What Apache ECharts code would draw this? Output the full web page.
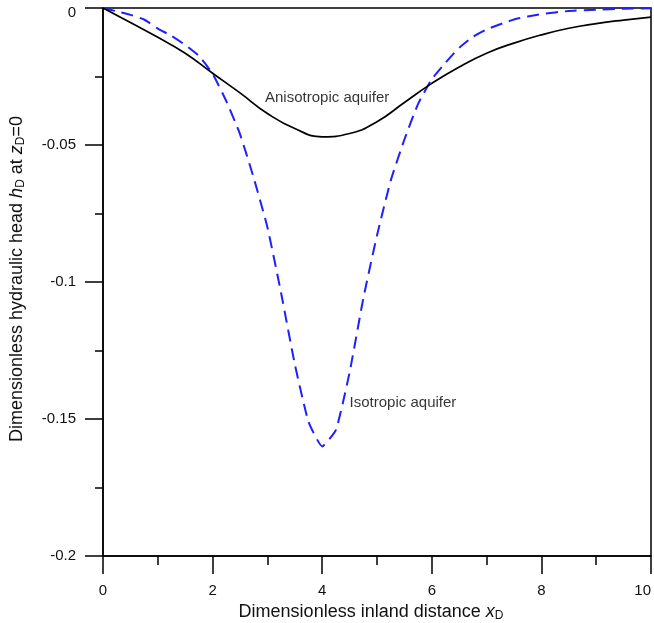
<!DOCTYPE html>
<html><head><meta charset="utf-8">
<script src="https://cdn.jsdelivr.net/npm/echarts@6/dist/echarts.min.js"></script>
<style>html,body{margin:0;padding:0;background:#fff}#c{width:654px;height:623px}</style>
</head><body><div id="c"></div>
<script>
// Anisotropic aquifer (solid black)
const anisoX = [0,0.5,1,1.5,2,2.5,3,3.5,4,4.5,5,5.5,6,6.5,7,7.5,8,8.5,9,9.5,10];
const anisoY = [0,-0.0053,-0.0107,-0.0165,-0.0238,-0.031,-0.0385,-0.0440,-0.0470,-0.0458,-0.0415,-0.0345,-0.0275,-0.0215,-0.0165,-0.0128,-0.0098,-0.0074,-0.0057,-0.0044,-0.0033];
// Isotropic aquifer (dashed blue)
const isoX = [0,0.25,0.5,0.75,1,1.25,1.5,1.75,2,2.25,2.5,2.75,3,3.25,3.5,3.75,4,4.25,4.5,4.75,5,5.25,5.5,5.75,6,6.25,6.5,6.75,7,7.5,8,8.5,9,9.5,10];
const isoY = [0,-0.0012,-0.0025,-0.0042,-0.0075,-0.0102,-0.0135,-0.0175,-0.024,-0.034,-0.046,-0.062,-0.080,-0.104,-0.130,-0.151,-0.160,-0.154,-0.133,-0.106,-0.083,-0.063,-0.048,-0.035,-0.026,-0.020,-0.0145,-0.0105,-0.0078,-0.0042,-0.0022,-0.0011,-0.0006,-0.0003,-0.0001];
// Axis ticks
const xTicks = {min:0, max:10, interval:2};
const yTicks = {min:-0.2, max:0, interval:0.05};
// Curve annotations
const annText = ['Anisotropic aquifer','Isotropic aquifer'];
const annX = [4.09, 4.5];
const annY = [-0.0328, -0.1442];
const annAlign = ['center','left'];

const FONT = "'Liberation Sans', Arial, sans-serif";
const chart = echarts.init(document.getElementById('c'), null, {renderer:'canvas'});
const axisLineStyle = {color:'#000', width:1.5};
const sub = {fontSize:12, fontFamily:FONT, color:'#111', verticalAlign:'bottom', padding:[8,0,0,0]};
const ital = {fontSize:18, fontFamily:FONT, color:'#111', fontStyle:'italic'};

chart.setOption({
  animation:false,
  backgroundColor:'#fff',
  grid:{left:103, right:3, top:8, bottom:67, containLabel:false, outerBoundsMode:'none',
        show:true, borderColor:'#000', borderWidth:1.5, backgroundColor:'transparent'},
  xAxis:{
    type:'value', min:xTicks.min, max:xTicks.max, interval:xTicks.interval,
    axisLine:{show:true, onZero:false, lineStyle:axisLineStyle},
    axisTick:{show:true, inside:false, length:18, lineStyle:axisLineStyle},
    minorTick:{show:true, splitNumber:2, length:9, lineStyle:axisLineStyle},
    splitLine:{show:false},
    axisLabel:{margin:27, fontSize:15, fontFamily:FONT, color:'#111', alignMaxLabel:'right'},
    name:'Dimensionless inland distance {i|x}{s|D}', nameLocation:'middle', nameGap:44,
    nameTextStyle:{fontSize:18, fontFamily:FONT, color:'#111', padding:[0,12,0,0], rich:{i:ital, s:sub}}
  },
  yAxis:{
    type:'value', min:yTicks.min, max:yTicks.max, interval:yTicks.interval,
    axisLine:{show:true, onZero:false, lineStyle:axisLineStyle},
    axisTick:{show:true, inside:false, length:18, lineStyle:axisLineStyle},
    minorTick:{show:true, splitNumber:2, length:8, lineStyle:axisLineStyle},
    splitLine:{show:false},
    axisLabel:{margin:27, fontSize:15, fontFamily:FONT, color:'#111',
      formatter:function(v){ return v === 0 ? '{t|0}' : String(v); },
      rich:{t:{fontSize:15, fontFamily:FONT, color:'#111', padding:[10,0,0,0]}}},
    name:'Dimensionless hydraulic head {i|h}{s|D} at {i|z}{s|D}=0', nameLocation:'middle', nameGap:76,
    nameTextStyle:{fontSize:18, fontFamily:FONT, color:'#111', padding:[0,0,0,6], rich:{i:ital, s:sub}}
  },
  series:[
    {type:'line', data:anisoX.map((x,i)=>[x,anisoY[i]]), smooth:true, showSymbol:false, symbol:'none',
     lineStyle:{color:'#000', width:1.7}, z:3},
    {type:'line', data:isoX.map((x,i)=>[x,isoY[i]]), smooth:0.15, showSymbol:false, symbol:'none',
     lineStyle:{color:'#1f1fff', width:2, type:[12,7]}, z:2},
    {type:'scatter', symbolSize:0, silent:true, z:5,
     data:annText.map((t,i)=>({name:t, value:[annX[i],annY[i]],
       label:{show:true, position:'inside', align:annAlign[i], verticalAlign:'middle', formatter:'{b}',
              fontSize:15, fontFamily:FONT, color:'#000'}}))}
  ]
});
</script></body></html>
